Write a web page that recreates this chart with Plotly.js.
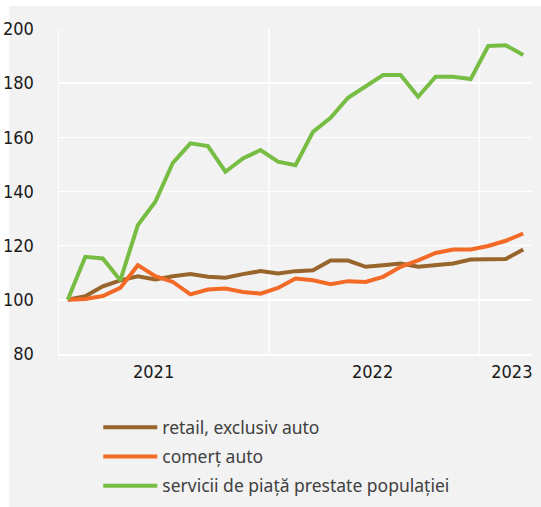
<!DOCTYPE html>
<html>
<head>
<meta charset="utf-8">
<script src="https://cdn.plot.ly/plotly-3.0.1.min.js"></script>
<style>
  html, body { margin: 0; padding: 0; background: #ffffff; }
  #grafic { width: 541px; height: 507px; }
</style>
</head>
<body>
<div id="grafic"></div>
<script>
// Luni (ian. 2021 - mar. 2023)
const luni = [
  'ian 2021', 'feb 2021', 'mar 2021', 'apr 2021', 'mai 2021', 'iun 2021',
  'iul 2021', 'aug 2021', 'sep 2021', 'oct 2021', 'nov 2021', 'dec 2021',
  'ian 2022', 'feb 2022', 'mar 2022', 'apr 2022', 'mai 2022', 'iun 2022',
  'iul 2022', 'aug 2022', 'sep 2022', 'oct 2022', 'nov 2022', 'dec 2022',
  'ian 2023', 'feb 2023', 'mar 2023'
];

const retail = [100, 101.3, 105.0, 107.2, 108.7, 107.5, 108.7, 109.5, 108.5, 108.2, 109.5, 110.6,
  109.7, 110.6, 110.9, 114.5, 114.5, 112.2, 112.8, 113.4, 112.2, 112.8, 113.4, 114.9,
  114.9, 115.1, 118.6];

const comertAuto = [100, 100.3, 101.4, 104.4, 112.8, 108.7, 106.6, 102.0, 103.8, 104.2, 102.9, 102.3,
  104.4, 107.9, 107.2, 105.8, 106.9, 106.6, 108.5, 112.2, 114.6, 117.3, 118.6, 118.6,
  119.9, 121.8, 124.5];

const servicii = [100, 115.9, 115.3, 107.2, 127.6, 136.2, 150.6, 157.8, 156.8, 147.3, 152.2, 155.3,
  151.0, 149.7, 162.0, 167.2, 174.6, 178.7, 183.0, 183.0, 175.0, 182.4, 182.4, 181.5,
  193.7, 194.0, 190.4];

const ani = ['2021', '2022', '2023'];
const yTicks = [80, 100, 120, 140, 160, 180, 200];

const x = luni.map((l, i) => i);

const serie = (nume, valori, culoare) => ({
  type: 'scatter',
  mode: 'lines',
  name: nume,
  legendgroup: nume,
  x: x,
  y: valori,
  text: luni,
  line: { color: culoare, width: 4 }
});

// separatori intre ani (dupa fiecare decembrie)
const separatori = luni
  .map((l, i) => (l.startsWith('dec') && i < luni.length - 1) ? i + 0.5 : null)
  .filter(v => v !== null)
  .map(v => ({
    type: 'line', xref: 'x', yref: 'paper', x0: v, x1: v, y0: 0, y1: 1,
    line: { color: '#ffffff', width: 1.5 }, layer: 'below'
  }));

const fundal = {
  type: 'rect', xref: 'paper', yref: 'paper',
  x0: -0.105, x1: 1.03, y0: -0.48, y1: 1.071,
  fillcolor: '#f2f2f2', line: { width: 0 }, layer: 'below'
};

const fontAxe = { family: 'Liberation Sans Narrow, DejaVu Sans Condensed, Liberation Sans, sans-serif', size: 18, color: '#1a1a1a' };

const layout = {
  width: 541,
  height: 507,
  margin: { l: 59, r: 9, t: 29, b: 153, autoexpand: false },
  paper_bgcolor: '#ffffff',
  plot_bgcolor: 'rgba(0,0,0,0)',
  showlegend: true,
  legend: {
    x: 0.083, y: -0.17, xanchor: 'left', yanchor: 'top',
    orientation: 'v',
    bgcolor: 'rgba(0,0,0,0)',
    itemwidth: 54,
    tracegroupgap: 3.5,
    font: { family: 'Noto Sans, Open Sans, sans-serif', size: 17.5, color: '#404040' }
  },
  xaxis: {
    range: [-0.5, luni.length - 0.5],
    tickvals: [4.9, 17.4, 25.35],
    ticktext: ani,
    showgrid: false,
    zeroline: false,
    showline: true,
    linecolor: '#ffffff',
    linewidth: 1.5,
    ticks: '',
    ticklabelstandoff: 1,
    tickfont: fontAxe,
    fixedrange: true
  },
  yaxis: {
    range: [80, 200],
    tickvals: yTicks,
    showgrid: true,
    gridcolor: '#ffffff',
    gridwidth: 1.5,
    zeroline: false,
    showline: true,
    linecolor: '#ffffff',
    linewidth: 1.5,
    ticks: '',
    ticklabelstandoff: 20,
    tickfont: fontAxe,
    fixedrange: true
  },
  shapes: [fundal].concat(separatori)
};

Plotly.newPlot('grafic', [
  serie('retail, exclusiv auto', retail, '#98652d'),
  serie('comerț auto', comertAuto, '#f26a25'),
  serie('servicii de piață prestate populației', servicii, '#78bd43')
], layout, { displayModeBar: false, staticPlot: true });
</script>
</body>
</html>
